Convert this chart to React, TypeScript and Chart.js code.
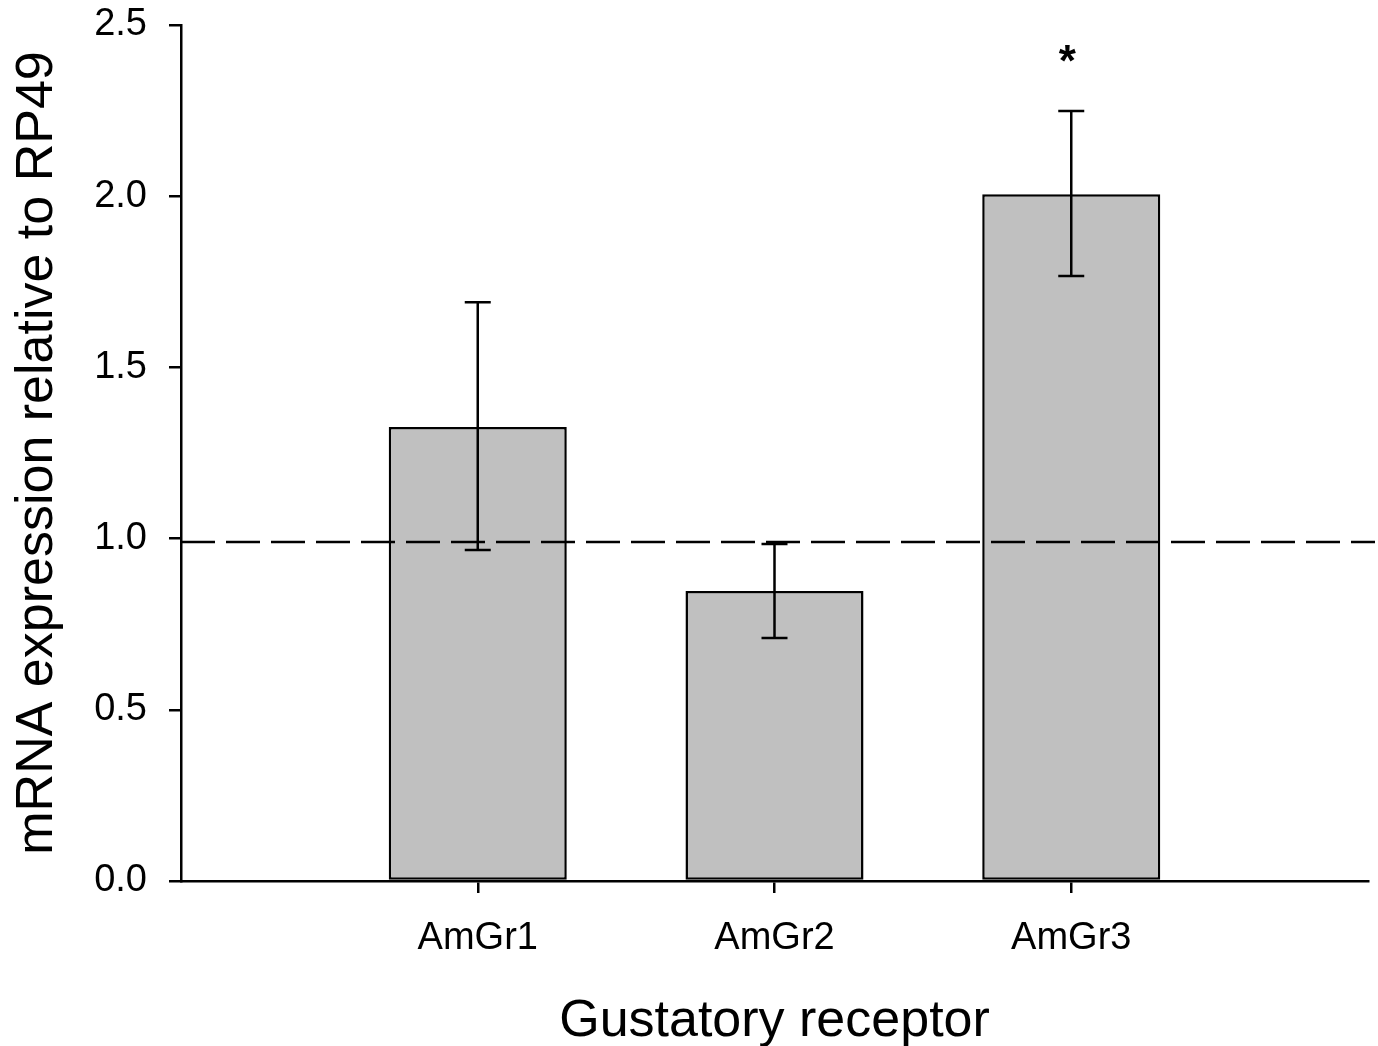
import React, { useEffect, useRef } from "react";
import { Chart, registerables } from "chart.js";

Chart.register(...registerables);

const categories = ["", "AmGr1", "AmGr2", "AmGr3", ""];
const means = [null, 1.326, 0.847, 2.006, null];
const errUpper = [null, 1.69, 0.984, 2.249, null];
const errLower = [null, 0.967, 0.71, 1.767, null];
const referenceLevel = 0.99;
const markerText = ["", "", "", "*", ""];
const markerLevel = [0, 0, 0, 2.41, 0];
const yTicks = [0, 0.5, 1.0, 1.5, 2.0, 2.5];

const FONT = "'Liberation Sans', Arial, sans-serif";

const overlayPlugin = {
  id: "overlay",
  afterDatasetsDraw(chart: any) {
    const { ctx, chartArea } = chart;
    const xs = chart.scales.x;
    const ys = chart.scales.y;
    ctx.save();
    ctx.strokeStyle = "#000";
    ctx.lineWidth = 2.5;
    ctx.setLineDash([34, 11]);
    const yr = ys.getPixelForValue(referenceLevel);
    ctx.beginPath();
    ctx.moveTo(chartArea.left, yr);
    ctx.lineTo(chartArea.right + 7, yr);
    ctx.stroke();
    ctx.setLineDash([]);
    const cap = 13;
    categories.forEach((_c, i) => {
      if (errUpper[i] == null || errLower[i] == null) return;
      const x = xs.getPixelForValue(i);
      const yt = ys.getPixelForValue(errUpper[i] as number);
      const yb = ys.getPixelForValue(errLower[i] as number);
      ctx.beginPath();
      ctx.moveTo(x, yt);
      ctx.lineTo(x, yb);
      ctx.moveTo(x - cap, yt);
      ctx.lineTo(x + cap, yt);
      ctx.moveTo(x - cap, yb);
      ctx.lineTo(x + cap, yb);
      ctx.stroke();
      if (markerText[i]) {
        ctx.fillStyle = "#000";
        ctx.font = `bold 44px ${FONT}`;
        ctx.textAlign = "center";
        ctx.textBaseline = "middle";
        ctx.fillText(markerText[i], x - 4, ys.getPixelForValue(markerLevel[i]) + 8);
      }
    });
    ctx.restore();
  },
};

export default function App() {
  const ref = useRef<HTMLCanvasElement | null>(null);
  useEffect(() => {
    if (!ref.current) return;
    const chart = new Chart(ref.current, {
      type: "bar",
      data: {
        labels: categories,
        datasets: [
          {
            data: means,
            backgroundColor: "#c0c0c0",
            borderColor: "#000",
            borderWidth: 2.5,
            borderSkipped: false,
            barPercentage: 0.6,
            categoryPercentage: 1,
          },
        ],
      },
      options: {
        animation: false,
        responsive: true,
        maintainAspectRatio: false,
        layout: { padding: { top: 25, right: 10, left: 0, bottom: 0 } },
        plugins: { legend: { display: false }, tooltip: { enabled: false } },
        scales: {
          x: {
            type: "category",
            offset: false,
            afterFit: (scale: any) => {
              scale.height = 165;
              scale.paddingLeft = 0;
              scale.paddingRight = 0;
            },
            ticks: {
              color: "#000",
              font: { family: FONT, size: 38 },
              padding: 23,
              maxRotation: 0,
              autoSkip: false,
            },
            grid: {
              drawOnChartArea: false,
              drawTicks: true,
              tickLength: 12,
              offset: false,
              color: (c: any) => (categories[c.index] ? "#000" : "rgba(0,0,0,0)"),
              lineWidth: 2.5,
            },
            border: { display: true, color: "#000", width: 2.5 },
            title: {
              display: true,
              text: "Gustatory receptor",
              color: "#000",
              font: { family: FONT, size: 52, lineHeight: 1 },
              padding: { top: 0, bottom: -2 },
            },
          },
          y: {
            type: "linear",
            min: 0,
            max: 2.5,
            afterBuildTicks: (scale: any) => {
              scale.ticks = yTicks.map((v) => ({ value: v }));
            },
            afterFit: (scale: any) => {
              scale.width = 181;
              scale.paddingTop = 0;
              scale.paddingBottom = 0;
            },
            ticks: {
              callback: (v: any) => Number(v).toFixed(1),
              color: "#000",
              font: { family: FONT, size: 38 },
              padding: 22,
            },
            grid: { drawOnChartArea: false, drawTicks: true, tickLength: 12, color: "#000", lineWidth: 2.5 },
            border: { display: true, color: "#000", width: 2.5 },
            title: {
              display: true,
              text: "mRNA expression relative to RP49",
              color: "#000",
              font: { family: FONT, size: 52, lineHeight: 1 },
              padding: { top: 12, bottom: 0 },
            },
          },
        },
      },
      plugins: [overlayPlugin],
    } as any);
    return () => chart.destroy();
  }, []);
  return (
    <div style={{ position: "fixed", left: 0, top: 0, width: 1378, height: 1046, background: "#fff" }}>
      <canvas ref={ref} />
    </div>
  );
}
